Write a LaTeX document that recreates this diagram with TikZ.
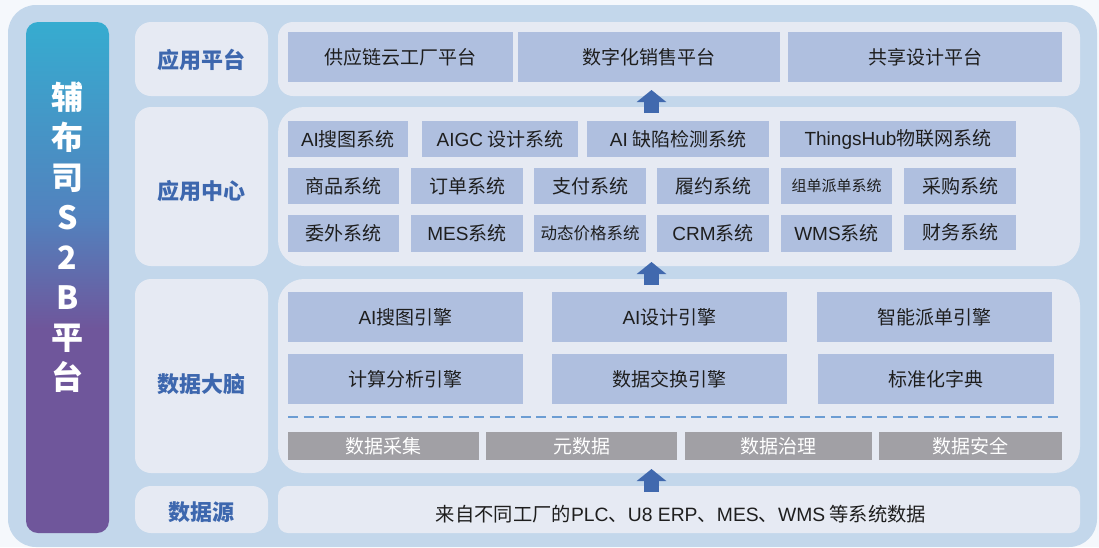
\documentclass[tikz,border=0pt]{standalone}
\usepackage{fontspec}
\setmainfont{Noto Sans CJK SC}
\newfontfamily\latfont{Liberation Sans}
\newcommand\la[1]{{\latfont #1}}
\usetikzlibrary{arrows.meta}
\definecolor{pagebg}{HTML}{F5F8FC}
\definecolor{outerbg}{HTML}{C3D7EB}
\definecolor{panel}{HTML}{E6EAF3}
\definecolor{itembg}{HTML}{AFBFDF}
\definecolor{labelblue}{HTML}{3D67AE}
\definecolor{arrowblue}{HTML}{4169AE}
\definecolor{graybox}{HTML}{A1A0A5}
\definecolor{dashblue}{HTML}{6C9DD3}
\definecolor{itemtext}{HTML}{1E1E1E}
\definecolor{barteal}{HTML}{36ACD0}
\definecolor{barmid}{HTML}{5282BE}
\definecolor{barpurple}{HTML}{6F569B}
\pgfdeclareverticalshading{barshade}{100bp}{color(0bp)=(barpurple); color(45bp)=(barpurple); color(56bp)=(barmid); color(75bp)=(barteal); color(100bp)=(barteal)}
\newcommand\bx[7]{\node[#1, minimum width={(#5-#3)*1pt}, minimum height={(#6-#4)*1pt}] (#2) at (#3,#4) {#7};}
\begin{document}
\begin{tikzpicture}[x=1pt,y=-1pt,
  box/.style={rectangle, inner sep=0pt, outer sep=0pt, anchor=north west},
  outerframe/.style={box, fill=outerbg, rounded corners=28pt},
  sidebar/.style={box, shading=barshade, rounded corners=12pt},
  bartext/.style={text=white, align=center, font=\fontsize{32}{40}\selectfont\bfseries},
  labelbox/.style={box, fill=panel, rounded corners=16pt},
  labeltext/.style={text=labelblue, inner sep=0pt, font=\fontsize{22}{26}\selectfont\bfseries},
  panelbox/.style={box, fill=panel, rounded corners=#1},
  item/.style={box, fill=itembg, text=itemtext, font=\fontsize{19}{22}\selectfont},
  smallitem/.style={item, font=\fontsize{16.5}{20}\selectfont},
  tinyitem/.style={item, font=\fontsize{15}{18}\selectfont},
  grayitem/.style={box, fill=graybox, text=white, font=\fontsize{19}{22}\selectfont},
  srctext/.style={text=itemtext, inner sep=0pt, font=\fontsize{19.3}{22}\selectfont},
  bigarrow/.style={draw=arrowblue, line width=15pt, -{Triangle[length=12pt,width=29pt,fill=arrowblue]}},
  dashline/.style={draw=dashblue, line width=1.8pt, dash pattern=on 10pt off 5.5pt}
]
\useasboundingbox (0,0) rectangle (1099,547);
\fill[pagebg] (0,0) rectangle (1099,547);
\bx{outerframe}{frame}{8}{5}{1097}{547}{}
\bx{sidebar}{bar}{26}{22}{109}{533}{}
\node[bartext] (bartxt) at (67.5,237) {辅\\布\\司\\S\\2\\B\\平\\台};

% labels
\bx{labelbox}{lpf}{135}{22}{268}{96}{}
\bx{labelbox}{lac}{135}{107}{268}{266}{}
\bx{labelbox}{ldb}{135}{279}{268}{473}{}
\bx{labelbox}{lds}{135}{486}{268}{533}{}
\node[labeltext] (lpft) at (201.5,60) {应用平台};
\node[labeltext] (lact) at (201.5,191) {应用中心};
\node[labeltext] (ldbt) at (201.5,384) {数据大脑};
\node[labeltext] (ldst) at (201.5,512.5) {数据源};

% panels
\bx{panelbox=15pt}{pf}{278}{22}{1080}{96}{}
\bx{panelbox=26pt}{ac}{278}{107}{1080}{266}{}
\bx{panelbox=26pt}{db}{278}{279}{1080}{473}{}
\bx{panelbox=10pt}{ds}{278}{486}{1080}{533}{}

% platform row
\bx{item}{p1}{288}{32}{513}{82}{供应链云工厂平台}
\bx{item}{p2}{518}{32}{780}{82}{数字化销售平台}
\bx{item}{p3}{788}{32}{1062}{82}{共享设计平台}

% app center row 1
\bx{item}{a11}{288}{121}{408}{157}{\la{AI}搜图系统}
\bx{item}{a12}{422}{121}{578}{157}{\la{AIGC} 设计系统}
\bx{item}{a13}{587}{121}{769}{157}{\la{AI} 缺陷检测系统}
\bx{item}{a14}{780}{121}{1016}{157}{\la{ThingsHub}物联网系统}
% row 2
\bx{item}{a21}{288}{168}{399}{204}{商品系统}
\bx{item}{a22}{411}{168}{523}{204}{订单系统}
\bx{item}{a23}{534}{168}{646}{204}{支付系统}
\bx{item}{a24}{657}{168}{769}{204}{履约系统}
\bx{tinyitem}{a25}{781}{168}{892}{204}{组单派单系统}
\bx{item}{a26}{904}{168}{1016}{204}{采购系统}
% row 3
\bx{item}{a31}{288}{215}{399}{252}{委外系统}
\bx{item}{a32}{411}{215}{523}{252}{\la{MES}系统}
\bx{smallitem}{a33}{534}{215}{646}{252}{动态价格系统}
\bx{item}{a34}{657}{215}{769}{252}{\la{CRM}系统}
\bx{item}{a35}{781}{215}{892}{252}{\la{WMS}系统}
\bx{item}{a36}{904}{215}{1016}{250}{财务系统}

% data brain
\bx{item}{e11}{288}{292}{523}{342}{\la{AI}搜图引擎}
\bx{item}{e12}{552}{292}{787}{342}{\la{AI}设计引擎}
\bx{item}{e13}{817}{292}{1052}{342}{智能派单引擎}
\bx{item}{e21}{288}{354}{523}{404}{计算分析引擎}
\bx{item}{e22}{552}{354}{787}{404}{数据交换引擎}
\bx{item}{e23}{818}{354}{1054}{404}{标准化字典}
\coordinate (dl) at (288,417);
\coordinate (dr) at (1059,417);
\draw[dashline] (dl) -- (dr);
\bx{grayitem}{g1}{288}{432}{479}{460}{数据采集}
\bx{grayitem}{g2}{486}{432}{677}{460}{元数据}
\bx{grayitem}{g3}{685}{432}{872}{460}{数据治理}
\bx{grayitem}{g4}{879}{432}{1062}{460}{数据安全}

% data source
\node[srctext] (dstext) at (681,514) {来自不同工厂的\la{PLC}、\la{U8 ERP}、\la{MES}、\la{WMS} 等系统数据};

% arrows
\coordinate (ax) at (651.5,0);
\draw[bigarrow, shorten <=-6pt, shorten >=-6pt] (ac.north -| ax) -- (pf.south -| ax);
\draw[bigarrow, shorten <=-6pt, shorten >=-4pt] (db.north -| ax) -- (ac.south -| ax);
\draw[bigarrow, shorten <=-6pt, shorten >=-4pt] (ds.north -| ax) -- (db.south -| ax);
\end{tikzpicture}
\end{document}
